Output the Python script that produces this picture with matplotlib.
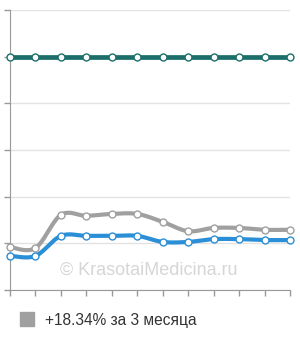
import numpy as np
import matplotlib.pyplot as plt

# точки по месяцам
x_idx = list(range(12))
teal_vals = [5.0] * 12
gray_vals = [0.92, 0.90, 1.61, 1.59, 1.63, 1.63, 1.46, 1.26, 1.33, 1.33, 1.29, 1.29]
blue_vals = [0.73, 0.73, 1.16, 1.16, 1.16, 1.16, 1.03, 1.03, 1.09, 1.09, 1.07, 1.07]
legend_label = '+18.34% за 3 месяца'
watermark = '© KrasotaiMedicina.ru'


def smooth(xs, ys, n=20):
    # catmull-rom, только для отрисовки линии
    xs = np.asarray(xs, float)
    ys = np.asarray(ys, float)
    px = np.concatenate([[xs[0]], xs, [xs[-1]]])
    py = np.concatenate([[ys[0]], ys, [ys[-1]]])
    ox, oy = [], []
    for i in range(1, len(px) - 2):
        t = np.linspace(0, 1, n, endpoint=False)
        for p, o in ((px, ox), (py, oy)):
            p0, p1, p2, p3 = p[i - 1], p[i], p[i + 1], p[i + 2]
            o.extend(0.5 * (2 * p1 + (-p0 + p2) * t
                            + (2 * p0 - 5 * p1 + 4 * p2 - p3) * t ** 2
                            + (-p0 + 3 * p1 - 3 * p2 + p3) * t ** 3))
    ox.append(xs[-1])
    oy.append(ys[-1])
    return ox, oy


plt.rcParams['font.family'] = ['Liberation Sans', 'DejaVu Sans']

fig = plt.figure(figsize=(3.0, 3.4), dpi=100)
ax = fig.add_axes([10 / 300, 50 / 340, 280 / 300, 280 / 340])

ax.set_xlim(0, 11)
ax.set_ylim(0, 6)
ax.set_yticks(range(7))
ax.set_xticks(x_idx)
ax.set_yticklabels([])
ax.set_xticklabels([])
ax.grid(axis='y', color='#e2e2e2', lw=1)
ax.set_axisbelow(True)
for s in ['top', 'right']:
    ax.spines[s].set_visible(False)
for s in ['left', 'bottom']:
    ax.spines[s].set_color('#999999')
ax.tick_params(axis='both', length=4, color='#999999', width=1)

series = [
    (teal_vals, '#1b6e6a', 3.4),
    (gray_vals, '#a0a0a0', 3.0),
    (blue_vals, '#2a8fd6', 3.0),
]
for vals, col, lw in series:
    sx, sy = smooth(x_idx, vals)
    ax.plot(sx, sy, color=col, lw=lw, solid_capstyle='round', clip_on=False, zorder=3)
    ax.plot(x_idx, vals, 'o', ms=5, mfc='white', mec=col, mew=1, clip_on=False, zorder=4)

fig.text(149 / 300, 1 - 270 / 340, watermark, ha='center', va='center',
         fontsize=13, color='#d6d6d6')

fig.patches.append(plt.Rectangle((20 / 300, 1 - 326 / 340), 14 / 300, 14 / 340,
                                 transform=fig.transFigure, color='#a0a0a0'))
fig.text(45 / 300, 1 - 320 / 340, legend_label, ha='left', va='center',
         fontsize=11.2, color='#333333')

fig.savefig('out.png', dpi=100)
